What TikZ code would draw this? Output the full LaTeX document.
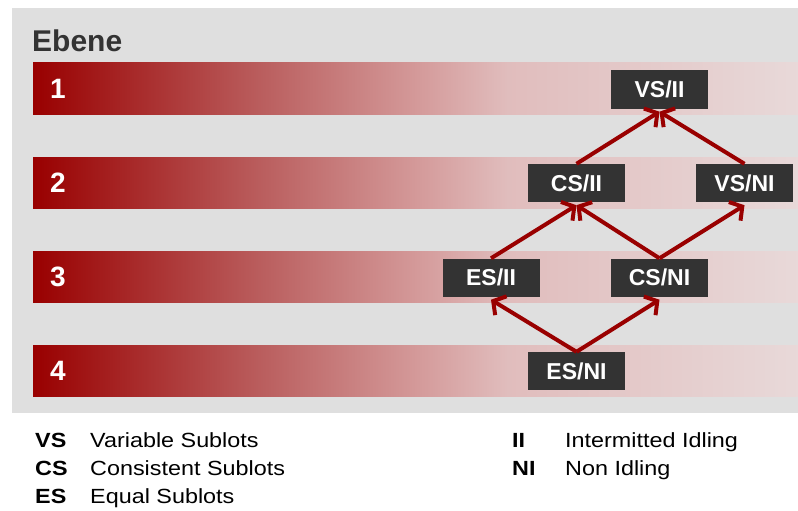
\documentclass[tikz,border=0pt]{standalone}
\usepackage{fontspec}
\setmainfont{Liberation Sans}
\newfontfamily\legendfont[FakeStretch=1.14]{Liberation Sans}
\usetikzlibrary{arrows.meta, positioning}

\definecolor{ebenered}{RGB}{153,0,0}
\definecolor{boxgray}{RGB}{51,51,51}
\definecolor{bggray}{RGB}{223,223,223}
\pgfdeclarehorizontalshading{barshade}{100bp}{%
  rgb(0bp)=(0.6,0,0); rgb(25bp)=(0.6,0,0);
  rgb(40bp)=(0.73,0.37,0.37); rgb(50bp)=(0.83,0.6,0.6);
  rgb(56bp)=(0.88,0.74,0.74); rgb(75bp)=(0.91,0.85,0.85);
  rgb(100bp)=(0.91,0.85,0.85)}

\tikzset{
  bar/.style={shading=barshade, draw=none},
  level/.style={font=\bfseries\fontsize{28}{28}\selectfont, text=white, anchor=west, inner sep=0pt},
  combo/.style={fill=boxgray, text=white, font=\bfseries\fontsize{23}{23}\selectfont,
    minimum width=97pt, minimum height=38pt, inner sep=0pt},
  link/.style={draw=ebenered, line width=4pt, -{Straight Barb[length=9pt,width=22pt]}},
  abbr/.style={font=\legendfont\bfseries\fontsize{20.5}{20.5}\selectfont, anchor=base west, inner sep=0pt},
  meaning/.style={font=\legendfont\fontsize{20.5}{20.5}\selectfont, anchor=base west, inner sep=0pt}
}

\begin{document}
\begin{tikzpicture}[x=1pt,y=1pt]
  \useasboundingbox (0,0) rectangle (798,-511);
  \fill[bggray] (12,-8) rectangle (798,-413);
  \node[font=\bfseries\fontsize{30}{30}\selectfont, text=boxgray, anchor=base west, inner sep=0pt] (title) at (32,-52) {Ebene};

  % levels
  \foreach \n/\top in {1/63, 2/157, 3/251, 4/345} {
    \shade[bar] (33,-\top) rectangle (798,-\top-51);
    \node[level] (lvl\n) at (50,-\top-26) {\n};
  }

  % lot streaming variants
  \node[combo] (vsii) at (659.5,-89.5) {VS/II};
  \node[combo] (csii) at (576.5,-183) {CS/II};
  \node[combo] (vsni) at (744.5,-183) {VS/NI};
  \node[combo] (esii) at (491,-277.5) {ES/II};
  \node[combo] (csni) at (659.5,-277.5) {CS/NI};
  \node[combo] (esni) at (576.5,-371) {ES/NI};

  \draw[link] (csii.north) -- ([yshift=-3pt]vsii.south);
  \draw[link] (vsni.north) -- ([yshift=-3pt]vsii.south);
  \draw[link] (esii.north) -- ([yshift=-3pt]csii.south);
  \draw[link] (csni.north) -- ([yshift=-3pt]csii.south);
  \draw[link] (csni.north) -- ([yshift=-3pt]vsni.south);
  \draw[link] (esni.north) -- ([yshift=-3pt]esii.south);
  \draw[link] (esni.north) -- ([yshift=-3pt]csni.south);

  % legend
  \node[abbr] (vs) at (35,-447) {VS};
  \node[meaning] (vstext) at (90,-447) {Variable Sublots};
  \node[abbr] (cs) at (35,-475) {CS};
  \node[meaning] (cstext) at (90,-475) {Consistent Sublots};
  \node[abbr] (es) at (35,-503) {ES};
  \node[meaning] (estext) at (90,-503) {Equal Sublots};
  \node[abbr] (ii) at (512,-447) {II};
  \node[meaning] (iitext) at (565,-447) {Intermitted Idling};
  \node[abbr] (ni) at (512,-475) {NI};
  \node[meaning] (nitext) at (565,-475) {Non Idling};
\end{tikzpicture}
\end{document}
